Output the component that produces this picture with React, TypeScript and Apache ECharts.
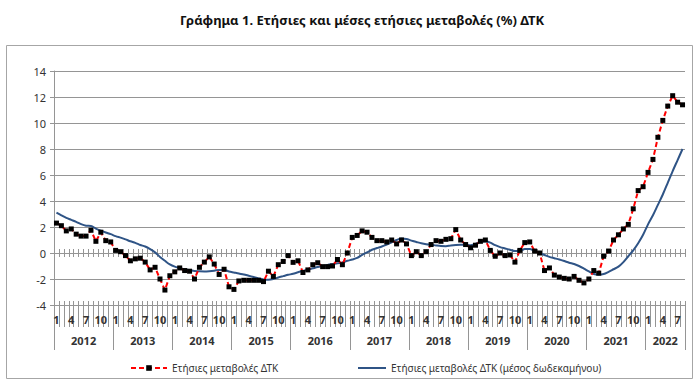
import React, { useEffect, useRef } from 'react';
import * as echarts from 'echarts';

const TITLE = 'Γράφημα 1. Ετήσιες και μέσες ετήσιες μεταβολές (%) ΔΤΚ';
const NAME_ANNUAL = 'Ετήσιες μεταβολές ΔΤΚ';
const NAME_AVG = 'Ετήσιες μεταβολές ΔΤΚ (μέσος δωδεκαμήνου)';

const years = ['2012', '2013', '2014', '2015', '2016', '2017', '2018', '2019', '2020', '2021', '2022'];
const monthsPerYear = [12, 12, 12, 12, 12, 12, 12, 12, 12, 12, 8];
const shownMonths = ['1', '4', '7', '10'];

const Y_MIN = -4;
const Y_MAX = 14;
const Y_STEP = 2;

// Annual change (%) CPI, monthly
const annual2012 = [2.3, 2.1, 1.7, 1.85, 1.45, 1.3, 1.3, 1.75, 0.9, 1.6, 0.95, 0.85];
const annual2013 = [0.2, 0.1, -0.2, -0.6, -0.45, -0.4, -0.7, -1.3, -1.1, -2.0, -2.85, -1.75];
const annual2014 = [-1.45, -1.15, -1.35, -1.4, -2.0, -1.1, -0.7, -0.3, -0.85, -1.65, -1.25, -2.6];
const annual2015 = [-2.8, -2.15, -2.1, -2.1, -2.1, -2.1, -2.2, -1.4, -1.8, -0.9, -0.65, -0.2];
const annual2016 = [-0.72, -0.6, -1.5, -1.3, -0.9, -0.75, -1.05, -1.05, -1.0, -0.5, -0.9, 0.0];
const annual2017 = [1.2, 1.35, 1.7, 1.6, 1.2, 0.95, 0.95, 0.85, 1.0, 0.7, 1.0, 0.7];
const annual2018 = [-0.2, 0.1, -0.2, 0.1, 0.65, 0.95, 0.9, 1.05, 1.1, 1.8, 1.0, 0.65];
const annual2019 = [0.4, 0.6, 0.9, 1.0, 0.2, -0.25, 0.0, -0.2, -0.15, -0.7, 0.2, 0.8];
const annual2020 = [0.85, 0.15, 0.0, -1.35, -1.15, -1.7, -1.85, -1.95, -2.0, -1.8, -2.1, -2.3];
const annual2021 = [-2.0, -1.35, -1.55, -0.25, 0.15, 1.0, 1.4, 1.85, 2.2, 3.4, 4.8, 5.1];
const annual2022 = [6.2, 7.2, 8.9, 10.2, 11.3, 12.1, 11.6, 11.4];

// 12-month average annual change (%)
const avg2012 = [3.1, 2.9, 2.7, 2.55, 2.4, 2.22, 2.1, 2.08, 1.88, 1.72, 1.58, 1.45];
const avg2013 = [1.3, 1.18, 1.05, 0.9, 0.78, 0.62, 0.5, 0.3, 0.05, -0.3, -0.6, -0.88];
const avg2014 = [-1.05, -1.15, -1.25, -1.33, -1.38, -1.41, -1.42, -1.4, -1.36, -1.3, -1.3, -1.42];
const avg2015 = [-1.5, -1.58, -1.65, -1.75, -1.85, -1.95, -2.03, -2.05, -2.0, -1.88, -1.78, -1.68];
const avg2016 = [-1.6, -1.48, -1.38, -1.28, -1.18, -1.08, -1.0, -0.92, -0.85, -0.78, -0.73, -0.6];
const avg2017 = [-0.5, -0.38, -0.15, 0.05, 0.25, 0.38, 0.5, 0.65, 0.82, 1.0, 1.12, 1.08];
const avg2018 = [0.95, 0.85, 0.75, 0.68, 0.64, 0.58, 0.53, 0.52, 0.58, 0.62, 0.64, 0.64];
const avg2019 = [0.6, 0.7, 0.85, 0.9, 0.8, 0.6, 0.45, 0.35, 0.25, 0.15, 0.15, 0.3];
const avg2020 = [0.3, 0.15, 0.0, -0.15, -0.3, -0.4, -0.5, -0.62, -0.75, -0.85, -1.0, -1.2];
const avg2021 = [-1.42, -1.62, -1.67, -1.62, -1.45, -1.25, -1.05, -0.7, -0.25, 0.2, 0.75, 1.4];
const avg2022 = [2.2, 2.9, 3.7, 4.5, 5.4, 6.3, 7.15, 8.0];

const annualSeries = [
  ...annual2012, ...annual2013, ...annual2014, ...annual2015, ...annual2016, ...annual2017,
  ...annual2018, ...annual2019, ...annual2020, ...annual2021, ...annual2022,
];
const avgSeries = [
  ...avg2012, ...avg2013, ...avg2014, ...avg2015, ...avg2016, ...avg2017,
  ...avg2018, ...avg2019, ...avg2020, ...avg2021, ...avg2022,
];

const categories: string[] = [];
years.forEach((y, yi) => {
  for (let m = 1; m <= monthsPerYear[yi]; m++) categories.push(y + '-' + m);
});

const FONT = '"Noto Sans", "Open Sans", "DejaVu Sans", sans-serif';
const GRID_COLOR = '#959595';
const TEXT_COLOR = '#333333';
const RED = '#FF0000';
const BLUE = '#2F5486';

function yearLabelIndex(index: number): boolean {
  const v = categories[index];
  if (!v) return false;
  const [y, m] = v.split('-');
  const yi = years.indexOf(y);
  const count = monthsPerYear[yi];
  return Number(m) === Math.floor(count / 2);
}

export default function App() {
  const ref = useRef<HTMLDivElement>(null);
  useEffect(() => {
    if (!ref.current) return;
    const chart = echarts.init(ref.current, undefined, { renderer: 'svg' });
    const baseX = {
      type: 'category' as const,
      data: categories,
      boundaryGap: true,
      gridIndex: 0,
      splitLine: { show: false },
    };
    const option: any = {
      animation: false,
      textStyle: { fontFamily: FONT },
      title: {
        text: TITLE,
        left: 357,
        top: 8,
        textAlign: 'center',
        textStyle: { fontFamily: FONT, fontSize: 13, fontWeight: 'bold', color: '#111' },
      },
      graphic: [
        {
          type: 'rect',
          silent: true,
          z: -1,
          shape: { x: 6.5, y: 45.5, width: 686, height: 333 },
          style: { fill: 'none', stroke: '#A6A6A6', lineWidth: 1 },
        },
      ],
      legend: [
        {
          data: [NAME_ANNUAL],
          left: 125,
          top: 358,
          itemWidth: 36,
          itemHeight: 7,
          itemGap: 4,
          textStyle: { fontFamily: FONT, fontSize: 10, color: TEXT_COLOR },
        },
        {
          data: [NAME_AVG],
          left: 352,
          top: 358,
          itemWidth: 28,
          itemHeight: 7,
          itemStyle: { opacity: 0 },
          textStyle: { fontFamily: FONT, fontSize: 10, color: TEXT_COLOR },
        },
      ],
      grid: { left: 54, top: 71, width: 631, height: 234, containLabel: false },
      yAxis: {
        type: 'value',
        min: Y_MIN,
        max: Y_MAX,
        interval: Y_STEP,
        axisLine: { show: true, lineStyle: { color: GRID_COLOR, width: 1 } },
        axisTick: { show: true, length: 4, lineStyle: { color: GRID_COLOR } },
        axisLabel: { fontFamily: FONT, fontSize: 11, color: TEXT_COLOR, margin: 8 },
        splitLine: { show: true, lineStyle: { color: GRID_COLOR, width: 1 } },
      },
      xAxis: [
        {
          ...baseX,
          position: 'bottom',
          axisLine: { show: true, onZero: true, onZeroAxisIndex: 0, lineStyle: { color: GRID_COLOR } },
          axisTick: { show: true, inside: true, length: 4, interval: 0, lineStyle: { color: GRID_COLOR } },
          axisLabel: { show: false },
        },
        {
          ...baseX,
          position: 'bottom',
          axisLine: { show: true, onZero: true, onZeroAxisIndex: 0, lineStyle: { color: GRID_COLOR } },
          axisTick: { show: true, inside: false, length: 4, interval: 0, lineStyle: { color: GRID_COLOR } },
          axisLabel: { show: false },
        },
        {
          ...baseX,
          position: 'bottom',
          axisLine: { show: true, onZero: false, lineStyle: { color: GRID_COLOR } },
          axisTick: { show: true, inside: false, length: 22, interval: 0, lineStyle: { color: GRID_COLOR } },
          axisLabel: {
            show: true,
            interval: (index: number, value: string) => shownMonths.includes(String(value).split('-')[1]),
            formatter: (value: string) => String(value).split('-')[1],
            fontFamily: FONT,
            fontSize: 11,
            fontWeight: 'bold',
            color: TEXT_COLOR,
            margin: 9,
          },
        },
        {
          ...baseX,
          position: 'bottom',
          axisLine: { show: false, onZero: false },
          axisTick: { show: true, inside: true, length: 4, interval: 0, lineStyle: { color: GRID_COLOR } },
          axisLabel: { show: false },
        },
        {
          ...baseX,
          position: 'bottom',
          axisLine: { show: false, onZero: false },
          axisTick: {
            show: true,
            inside: false,
            length: 45,
            interval: (index: number, value: string) => String(value).split('-')[1] === '1',
            lineStyle: { color: GRID_COLOR },
          },
          axisLabel: {
            show: true,
            interval: (index: number) => yearLabelIndex(index),
            formatter: (value: string) => String(value).split('-')[0],
            fontFamily: FONT,
            fontSize: 11,
            fontWeight: 'bold',
            color: TEXT_COLOR,
            margin: 30,
            padding: [0, 0, 0, 5],
          },
        },
      ],
      series: [
        {
          name: NAME_AVG,
          type: 'line',
          xAxisIndex: 2,
          yAxisIndex: 0,
          data: avgSeries,
          showSymbol: false,
          symbol: 'circle',
          smooth: 0.3,
          z: 2,
          color: BLUE,
          lineStyle: { color: BLUE, width: 2 },
        },
        {
          name: NAME_ANNUAL,
          type: 'line',
          xAxisIndex: 2,
          yAxisIndex: 0,
          data: annualSeries,
          symbol: 'rect',
          symbolSize: 5,
          showSymbol: true,
          showAllSymbol: true,
          z: 3,
          color: '#000000',
          itemStyle: { color: '#000000' },
          lineStyle: { color: RED, width: 2, type: [5, 3] },
        },
      ],
    };
    chart.setOption(option);
    return () => chart.dispose();
  }, []);
  return (
    <div
      ref={ref}
      style={{ position: 'fixed', left: 0, top: 0, width: 700, height: 384, background: '#fff' }}
    />
  );
}
